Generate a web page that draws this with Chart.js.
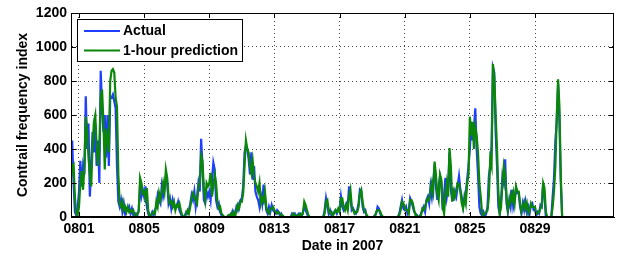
<!DOCTYPE html>
<html><head><meta charset="utf-8">
<script src="https://cdn.jsdelivr.net/npm/chart.js@4.4.1/dist/chart.umd.min.js"></script>
<style>html,body{margin:0;padding:0;background:#fff}#wrap{width:630px;height:253px}</style>
</head><body><div id="wrap"><canvas id="c" width="630" height="253"></canvas></div>
<script>
// time grid: day of August 2007, 2-hour steps starting 0800 12:00
const startDay = 0.5;
const stepDays = 1 / 12;

const actual = [
  320, 450, 200, 30, 10, 50,
  150, 330, 180, 300, 250, 710, 400, 550, 120, 300, 500, 380,
  550, 300, 450, 200, 860, 650, 500, 600, 350, 600, 300, 700,
  700, 720, 680, 640, 300, 90, 60, 100, 30, 80, 20, 50,
  40, 60, 20, 50, 10, 0, 20, 10, 40, 180, 120, 160,
  120, 180, 60, 20, 0, 10, 30, 10, 40, 60, 130, 100,
  80, 180, 120, 160, 240, 200, 80, 110, 50, 100, 60, 50,
  60, 90, 40, 20, 0, 0, 10, 30, 20, 40, 80, 130,
  100, 150, 60, 120, 200, 150, 460, 300, 100, 80, 150, 120,
  150, 100, 220, 320, 280, 100, 60, 80, 30, 10, 0, 0,
  0, 0, 0, 10, 0, 30, 0, 20, 60, 40, 80, 100,
  110, 180, 380, 420, 400, 340, 250, 380, 220, 300, 150, 120,
  100, 60, 130, 80, 190, 120, 40, 20, 60, 30, 70, 40,
  30, 20, 40, 30, 10, 20, 0, 0, 0, 0, 0, 0,
  0, 20, 10, 20, 0, 10, 20, 10, 0, 30, 60, 40,
  20, 0, 0, 0, 0, 0, 0, 0, 0, 0, 0, 0,
  0, 40, 110, 60, 20, 40, 10, 20, 30, 40, 20, 40,
  40, 120, 60, 40, 60, 80, 60, 180, 120, 40, 50, 30,
  20, 40, 80, 160, 150, 60, 30, 40, 0, 0, 0, 0,
  0, 0, 10, 20, 60, 50, 20, 0, 0, 0, 0, 0,
  0, 0, 0, 0, 0, 0, 0, 0, 20, 60, 100, 50,
  40, 60, 20, 40, 110, 90, 60, 30, 20, 10, 0, 0,
  20, 40, 60, 30, 100, 120, 80, 180, 120, 200, 310, 180,
  100, 180, 240, 200, 40, 130, 230, 120, 180, 380, 160, 100,
  100, 150, 120, 180, 240, 160, 120, 60, 100, 140, 220, 300,
  400, 560, 450, 520, 640, 400, 250, 60, 20, 10, 30, 0,
  20, 60, 240, 300, 420, 880, 850, 500, 300, 60, 20, 100,
  240, 200, 340, 80, 30, 100, 60, 160, 60, 100, 170, 140,
  140, 60, 20, 80, 40, 90, 30, 60, 20, 70, 80, 40,
  40, 10, 30, 20, 70, 60, 200, 120, 0, 0, 0, 0,
  0, 120, 230, 450, 560, 780, 560, 200, 0, 0, 0, 0,
  0, 0, 0, 0, 0, 0, 0
];

const prediction = [
  220, 300, 310, 120, 20, 10,
  60, 200, 270, 160, 300, 590, 500, 350, 250, 180, 420, 560,
  600, 420, 300, 400, 700, 750, 560, 280, 520, 450, 380, 800,
  860, 870, 850, 700, 650, 250, 80, 60, 90, 40, 60, 30,
  60, 30, 40, 30, 40, 10, 10, 20, 30, 230, 200, 140,
  150, 110, 170, 40, 10, 0, 20, 30, 20, 90, 60, 140,
  100, 140, 200, 150, 280, 230, 120, 80, 90, 60, 90, 40,
  70, 60, 80, 40, 10, 0, 0, 20, 40, 20, 60, 110,
  140, 120, 100, 80, 180, 200, 360, 330, 160, 100, 200, 180,
  200, 260, 120, 180, 250, 200, 90, 50, 60, 20, 10, 0,
  0, 0, 10, 0, 20, 10, 30, 0, 40, 70, 50, 90,
  90, 140, 300, 450, 400, 380, 300, 260, 330, 240, 200, 180,
  150, 200, 80, 110, 90, 150, 60, 30, 20, 50, 50, 60,
  40, 30, 20, 30, 20, 10, 10, 0, 0, 0, 0, 0,
  0, 10, 20, 10, 10, 0, 10, 20, 10, 20, 90, 70,
  40, 10, 0, 0, 0, 0, 0, 0, 0, 0, 0, 0,
  0, 20, 90, 100, 40, 20, 30, 10, 20, 40, 30, 50,
  30, 110, 110, 60, 40, 70, 40, 120, 160, 60, 40, 20,
  30, 30, 60, 140, 160, 90, 40, 30, 10, 0, 0, 0,
  0, 0, 0, 30, 40, 40, 30, 10, 0, 0, 0, 0,
  0, 0, 0, 0, 0, 0, 0, 0, 10, 40, 90, 80,
  60, 40, 40, 20, 100, 100, 80, 40, 10, 10, 0, 0,
  10, 50, 40, 60, 90, 110, 100, 150, 200, 150, 326, 250,
  140, 100, 250, 220, 60, 20, 130, 200, 120, 405, 300, 90,
  150, 120, 160, 200, 190, 150, 80, 50, 120, 80, 200, 250,
  590, 480, 560, 400, 530, 480, 380, 200, 120, 20, 10, 20,
  30, 40, 120, 340, 300, 900, 820, 600, 400, 150, 20, 60,
  200, 300, 250, 120, 40, 80, 130, 90, 140, 80, 180, 150,
  150, 80, 30, 60, 90, 50, 80, 20, 40, 80, 60, 60,
  60, 20, 20, 30, 50, 70, 200, 170, 30, 0, 0, 0,
  0, 60, 150, 300, 590, 810, 650, 240, 0, 0, 0, 0,
  0, 0, 0, 0, 0, 0, 0
];

const tickDays = [1, 5, 9, 13, 17, 21, 25, 29];
const tickLabels = ['0801', '0805', '0809', '0813', '0817', '0821', '0825', '0829'];
const yTicks = [0, 200, 400, 600, 800, 1000, 1200];

const toPoints = arr => arr.map((v, i) => ({ x: startDay + i * stepDays, y: v }));

const FONT = { family: '"Liberation Sans", Arial, sans-serif', size: 14, weight: 'bold' };

const frame = {
  id: 'frame',
  afterDraw(chart) {
    const { ctx, chartArea: a, scales } = chart;
    ctx.save();
    ctx.strokeStyle = '#000';
    ctx.lineWidth = 1;
    ctx.strokeRect(Math.round(a.left) + 0.5, Math.round(a.top) + 0.5,
      Math.round(a.right - a.left) - 1, Math.round(a.bottom - a.top) - 1);
    ctx.beginPath();
    const L = 5;
    tickDays.forEach(d => {
      const x = Math.round(scales.x.getPixelForValue(d)) + 0.5;
      ctx.moveTo(x, a.bottom); ctx.lineTo(x, a.bottom - L);
      ctx.moveTo(x, a.top); ctx.lineTo(x, a.top + L);
    });
    yTicks.forEach(v => {
      const y = Math.round(scales.y.getPixelForValue(v)) + 0.5;
      ctx.moveTo(a.left, y); ctx.lineTo(a.left + L, y);
      ctx.moveTo(a.right, y); ctx.lineTo(a.right - L, y);
    });
    ctx.stroke();

    // legend
    const bx = 77.5, by = 19.5, bw = 165, bh = 42;
    ctx.fillStyle = '#fff';
    ctx.fillRect(bx, by, bw, bh);
    ctx.strokeRect(bx, by, bw, bh);
    ctx.font = 'bold 14px "Liberation Sans", Arial, sans-serif';
    ctx.textBaseline = 'middle';
    ctx.textAlign = 'left';
    const rows = [31, 50.5];
    chart.data.datasets.forEach((ds, i) => {
      const y = rows[i];
      ctx.strokeStyle = ds.borderColor;
      ctx.lineWidth = 2;
      ctx.beginPath();
      ctx.moveTo(84, y); ctx.lineTo(120, y);
      ctx.stroke();
      ctx.fillStyle = '#000';
      ctx.fillText(ds.label, 123, y + 0.5);
    });
    ctx.restore();
  }
};

new Chart(document.getElementById('c'), {
  type: 'line',
  data: {
    datasets: [
      { label: 'Actual', data: toPoints(actual), borderColor: '#1f3fff', borderWidth: 2.2,
        pointRadius: 0, tension: 0, order: 1 },
      { label: '1-hour prediction', data: toPoints(prediction), borderColor: '#0a870a', borderWidth: 2.2,
        pointRadius: 0, tension: 0, order: 0 }
    ]
  },
  options: {
    responsive: false,
    animation: false,
    devicePixelRatio: 1,
    layout: { padding: { left: 0, top: 13, right: 16, bottom: 0 } },
    plugins: { legend: { display: false }, tooltip: { enabled: false } },
    scales: {
      x: {
        type: 'linear', min: 0.51, max: 33.85,
        afterBuildTicks: axis => { axis.ticks = tickDays.map(v => ({ value: v })); },
        afterFit: axis => { axis.height = 36; },
        ticks: {
          autoSkip: false, maxRotation: 0, color: '#000', font: FONT, padding: 4,
          callback: v => tickLabels[tickDays.indexOf(v)]
        },
        grid: { color: '#444', lineWidth: 1, drawTicks: false },
        border: { display: true, color: '#000', width: 1, dash: [1, 3] },
        title: { display: true, text: 'Date in 2007', color: '#000', font: FONT, padding: { top: 0, bottom: -2 } }
      },
      y: {
        min: 0, max: 1200,
        afterBuildTicks: axis => { axis.ticks = yTicks.map(v => ({ value: v })); },
        afterFit: axis => { axis.width = 71; },
        ticks: { color: '#000', font: FONT, padding: 4, callback: v => String(v) },
        grid: { color: '#444', lineWidth: 1, drawTicks: false },
        border: { display: true, color: '#000', width: 1, dash: [1, 3] },
        title: { display: true, text: 'Contrail frequency index', color: '#000', font: FONT, padding: { top: 15, bottom: 0 } }
      }
    }
  },
  plugins: [frame]
});
</script>
</body></html>
